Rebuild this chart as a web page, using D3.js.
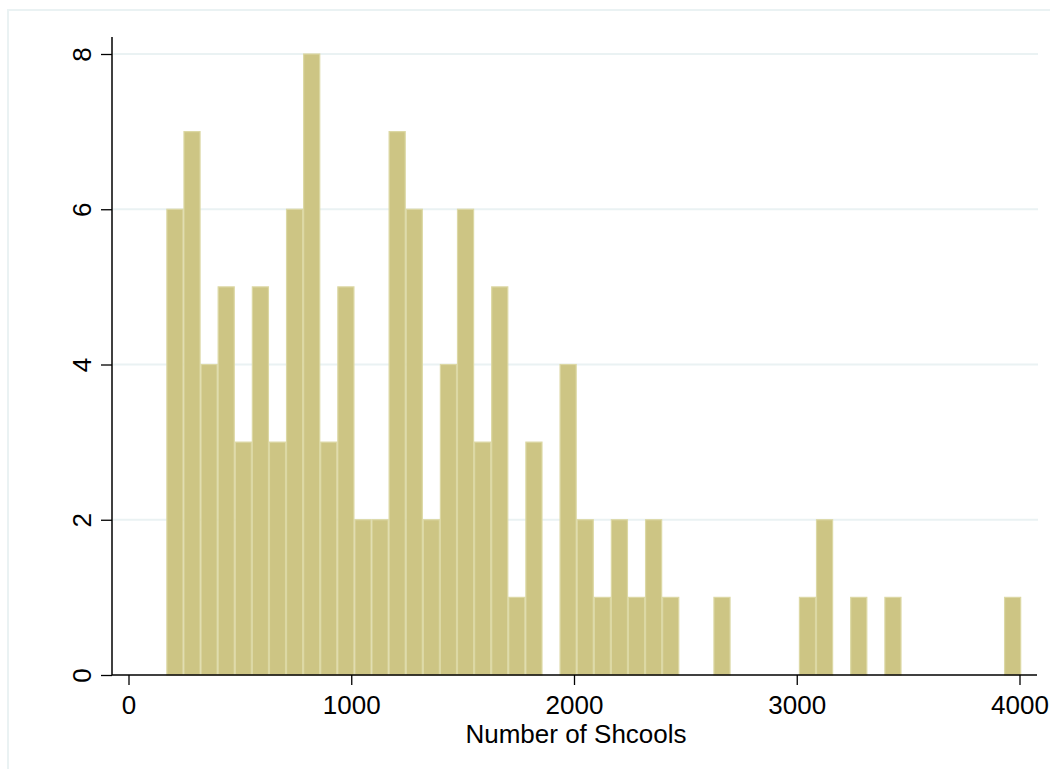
<!DOCTYPE html>
<html>
<head>
<meta charset="utf-8">
<script src="https://cdn.jsdelivr.net/npm/d3@7"></script>
<style>
  body { margin: 0; background: #fff; }
  svg text { font-family: "Liberation Sans", Arial, sans-serif; fill: #000; }
</style>
</head>
<body>
<svg id="chart" width="1050" height="769"></svg>
<script>
// histogram bins: start, width and count per bin
var binStart = 170;
var binWidth = 76.75;
var counts = [6, 7, 4, 5, 3, 5, 3, 6, 8, 3,
  5, 2, 2, 7, 6, 2, 4, 6, 3, 5,
  1, 3, 0, 4, 2, 1, 2, 1, 2, 1,
  0, 0, 1, 0, 0, 0, 0, 1, 2, 0,
  1, 0, 1, 0, 0, 0, 0, 0, 0, 1];
var xTicks = [0, 1000, 2000, 3000, 4000];
var yTicks = [0, 2, 4, 6, 8];
var xTitle = "Number of Shcools";

var svg = d3.select("#chart");

// outer graph region border
svg.append("rect")
  .attr("x", 8).attr("y", 10)
  .attr("width", 1060).attr("height", 780)
  .attr("fill", "#fff")
  .attr("stroke", "#eaf2f3")
  .attr("stroke-width", 2);

var x = d3.scaleLinear().domain([0, 4000]).range([128.5, 1019.5]);
var y = d3.scaleLinear().domain([0, 8]).range([675, 54]);

var plotLeft = 112, plotRight = 1037;

//grid lines
svg.append("g")
  .selectAll("line")
  .data(yTicks.filter(function (d) { return d > 0; }))
  .enter()
  .append("line")
  .attr("x1", plotLeft + 1)
  .attr("x2", 1038)
  .attr("y1", function (d) { return y(d); })
  .attr("y2", function (d) { return y(d); })
  .attr("stroke", "#eaf2f3")
  .attr("stroke-width", 2);

var bins = counts.map(function (c, i) {
  return { x0: binStart + i * binWidth, x1: binStart + (i + 1) * binWidth, n: c };
});

svg.append("g")
  .selectAll("rect")
  .data(bins.filter(function (d) { return d.n > 0; }))
  .enter()
  .append("rect")
  .attr("x", function (d) { return x(d.x0) + 0.5; })
  .attr("y", function (d) { return y(d.n); })
  .attr("width", function (d) { return x(d.x1) - x(d.x0) - 1; })
  .attr("height", function (d) { return y(0) - y(d.n); })
  .attr("fill", "#cdc584")
  .attr("stroke", "#dcd8a4")
  .attr("stroke-width", 1.2);

// x axis
var xAxis = svg.append("g")
  .attr("transform", "translate(0," + 675 + ")")
  .call(d3.axisBottom(x).tickValues(xTicks).tickSize(10).tickPadding(11).tickFormat(d3.format("d")));
xAxis.select(".domain").remove();
xAxis.selectAll("text").style("font-size", "26px").attr("fill", "#000");
xAxis.selectAll(".tick line").attr("stroke", "#000").attr("stroke-width", 1.3);
svg.append("line")
  .attr("x1", plotLeft).attr("x2", plotRight)
  .attr("y1", 675).attr("y2", 675)
  .attr("stroke", "#000").attr("stroke-width", 1.5);

// y axis
var yAxis = svg.append("g")
  .attr("transform", "translate(" + plotLeft + ",0)")
  .call(d3.axisLeft(y).tickValues(yTicks).tickSize(11).tickPadding(0));
yAxis.select(".domain").remove();
yAxis.selectAll(".tick line").attr("stroke", "#000").attr("stroke-width", 1.3);
yAxis.selectAll(".tick text")
  .attr("x", null).attr("dy", null)
  .attr("transform", "translate(-21,0) rotate(-90)")
  .attr("text-anchor", "middle")
  .style("font-size", "26px")
  .attr("fill", "#000");
svg.append("line")
  .attr("x1", plotLeft).attr("x2", plotLeft)
  .attr("y1", 37).attr("y2", 675)
  .attr("stroke", "#000").attr("stroke-width", 1.5);

// axis title
svg.append("text")
  .attr("x", (x(0) + x(4000)) / 2 + 2)
  .attr("y", 743)
  .attr("text-anchor", "middle")
  .style("font-size", "26px")
  .text(xTitle);
</script>
</body>
</html>
